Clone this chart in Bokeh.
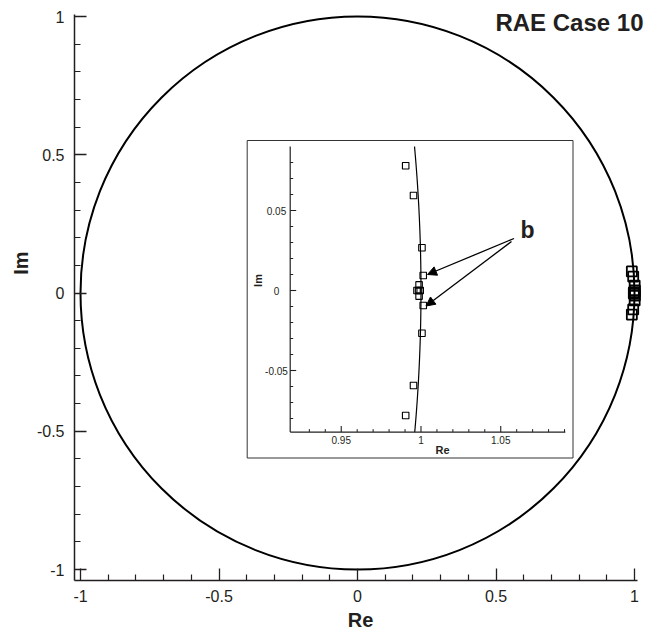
import numpy as np
from bokeh.plotting import figure
from bokeh.models import Range1d, FixedTicker, Label, Arrow, NormalHead, Title
from bokeh.core.properties import value
from bokeh.embed import file_html
from bokeh.resources import INLINE

# ---------------- data ----------------
eig_re = [0.9904, 0.9953, 1.0006, 1.0014, 0.9975, 0.9985, 0.9995, 0.9988, 0.9988,
          1.0014, 1.0006, 0.9953, 0.9904]
eig_im = [0.0780, 0.0594, 0.0267, 0.0094, 0.0, 0.0, 0.0, 0.0035, -0.0035,
          -0.0094, -0.0267, -0.0594, -0.0781]
unit_radius = 1.0

main_ticks = [-1, -0.5, 0, 0.5, 1]
main_tick_labels = ["-1", "-0.5", "0", "0.5", "1"]
inset_x_ticks = [0.95, 1.0, 1.05]
inset_x_labels = ["0.95", "1", "1.05"]
inset_y_ticks = [-0.05, 0.0, 0.05]
inset_y_labels = ["-0.05", "0", "0.05"]
title_text = "RAE Case 10"
annot_text = "b"
x_title = "Re"
y_title = "Im"

FONT = "Liberation Sans"
INK = "#231f20"

# ---------------- layout (pixels) ----------------
W, H = 650, 644
FL, FR, FT, FB = 74, 646, 4, 580          # frame edges
X0PX, KX = 80.0, 277.0                    # x=-1 at 80px, px per unit
Y1PX, KY = 16.0, 276.5                    # y=+1 at 16px, px per unit

x_start = -1 - (X0PX - FL) / KX
x_end = -1 + (FR - X0PX) / KX
y_end = 1 + (Y1PX - FT) / KY
y_start = 1 - (FB - Y1PX) / KY

def mx(px):
    return -1 + (px - X0PX) / KX

def my(py):
    return 1 - (py - Y1PX) / KY

# inset mapping
IX0, IX0PX, IKX = 0.918, 289.7, 1595.0
IY0PX, IKY = 290.0, 1600.0
ix_lo, ix_hi = 0.918, 1.0905
iy_lo, iy_hi = -0.0885, 0.090

def ix(px):
    return IX0 + (px - IX0PX) / IKX

def iy(py):
    return (IY0PX - py) / IKY

p = figure(width=W, height=H,
           x_range=Range1d(x_start, x_end), y_range=Range1d(y_start, y_end),
           output_backend="svg", toolbar_location=None,
           min_border_left=FL, min_border_right=W - FR,
           min_border_top=FT, min_border_bottom=H - FB,
           outline_line_color=None, background_fill_color="white",
           border_fill_color="white")
p.extra_x_ranges = {"ix": Range1d(ix(FL), ix(FR))}
p.extra_y_ranges = {"iy": Range1d(iy(FB), iy(FT))}
p.grid.visible = False

main_minor = [float(v) for v in np.round(np.arange(-1.0, 1.0001, 0.1), 2)
              if not any(abs(v - t) < 1e-9 for t in main_ticks)]
overrides = {t: l for t, l in zip(main_ticks, main_tick_labels)}

for ax in (p.xaxis[0], p.yaxis[0]):
    ax.ticker = FixedTicker(ticks=main_ticks, minor_ticks=main_minor)
    ax.major_label_overrides = overrides
    ax.axis_line_color = INK
    ax.axis_line_width = 1.5
    ax.major_tick_in = 12
    ax.major_tick_out = 0
    ax.minor_tick_in = 6
    ax.minor_tick_out = 0
    ax.major_tick_line_color = INK
    ax.major_tick_line_width = 1.3
    ax.minor_tick_line_color = INK
    ax.minor_tick_line_width = 1.2
    ax.major_label_text_font = FONT
    ax.major_label_text_font_size = "16px"
    ax.major_label_text_color = INK
p.xaxis[0].major_label_standoff = 9
p.yaxis[0].major_label_standoff = 10
p.xaxis[0].bounds = (x_start, 1.012)
p.yaxis[0].bounds = (y_start, 1.008)

p.xaxis[0].axis_label = x_title
p.xaxis[0].axis_label_standoff = 4
p.xaxis[0].axis_label_text_font = FONT
p.xaxis[0].axis_label_text_font_size = "20px"
p.xaxis[0].axis_label_text_font_style = "bold"
p.xaxis[0].axis_label_text_color = INK

# "Im" title on the left, placed part-way up as in the reference
p.add_layout(Title(text=y_title, align="right", offset=247, standoff=4,
                   text_font=FONT, text_font_size="20px", text_font_style="bold",
                   text_color=INK), "left")

# main unit circle and eigenvalues
p.ellipse(x=0, y=0, width=2 * unit_radius, height=2 * unit_radius,
          fill_alpha=0, line_color="black", line_width=2)
p.scatter(eig_re, eig_im, marker="square", size=10, fill_alpha=0,
          line_color="black", line_width=1.8)

# ---------------- inset ----------------
R = dict(x_range_name="ix", y_range_name="iy")
p.quad(left=ix(246.7), right=ix(572.5), top=iy(140.0), bottom=iy(457.5),
       fill_color="white", line_color="#333333", line_width=1, **R)

yy = np.linspace(iy_lo, iy_hi, 80)
p.line(np.sqrt(unit_radius ** 2 - yy ** 2), yy, line_color="black", line_width=1.2, **R)
p.scatter(eig_re, eig_im, marker="square", size=6.5, fill_alpha=0,
          line_color="black", line_width=1.1, **R)

# inset axes lines
p.line([ix_lo, ix_hi], [iy_lo, iy_lo], line_color=INK, line_width=1.2, **R)
p.line([ix_lo, ix_lo], [iy_lo, iy_hi], line_color=INK, line_width=1.2, **R)

in_x_minor = [float(v) for v in np.round(np.arange(0.93, ix_hi + 1e-6, 0.01), 3)
              if not any(abs(v - t) < 1e-9 for t in inset_x_ticks)]
in_y_minor = [float(v) for v in np.round(np.arange(-0.08, 0.0801, 0.01), 3)
              if not any(abs(v - t) < 1e-9 for t in inset_y_ticks)]

def xticks(vals, length):
    return dict(x0=vals, x1=vals, y0=[iy_lo] * len(vals),
                y1=[iy_lo + length / IKY] * len(vals))

def yticks(vals, length):
    return dict(y0=vals, y1=vals, x0=[ix_lo] * len(vals),
                x1=[ix_lo + length / IKX] * len(vals))

for d, w in ((xticks(inset_x_ticks, 6), 1.1), (xticks(in_x_minor, 3), 1.0),
             (yticks(inset_y_ticks, 6), 1.1), (yticks(in_y_minor, 3), 1.0)):
    p.segment(line_color=INK, line_width=w, **d, **R)

p.text(x=inset_x_ticks, y=[iy_lo - 4 / IKY] * 3, text=inset_x_labels,
       text_font=value(FONT), text_font_size="10px", text_color=INK,
       text_align="center", text_baseline="top", **R)
p.text(x=[ix(276.0)] * 3, y=inset_y_ticks, text=inset_y_labels,
       text_font=value(FONT), text_font_size="10px", text_color=INK,
       text_align="center", text_baseline="middle", **R)
p.text(x=[ix(442.0)], y=[iy(449.5)], text=[x_title],
       text_font=value(FONT), text_font_size="11px", text_font_style="bold",
       text_color=INK, text_align="center", text_baseline="middle", **R)
p.text(x=[ix(257.0)], y=[iy(280.0)], text=[y_title], angle=np.pi / 2,
       text_font=value(FONT), text_font_size="11px", text_font_style="bold",
       text_color=INK, text_align="center", text_baseline="middle", **R)
p.text(x=[ix(527.0)], y=[iy(229.5)], text=[annot_text],
       text_font=value(FONT), text_font_size="23px", text_font_style="bold",
       text_color=INK, text_align="center", text_baseline="middle", **R)

arrow_tail = [(ix(513.5), iy(238.0)), (ix(511.0), iy(241.0))]
arrow_tip = [(ix(427.0), iy(274.0)), (ix(425.5), iy(305.5))]
for (xs, ys), (xe, ye) in zip(arrow_tail, arrow_tip):
    p.add_layout(Arrow(end=NormalHead(size=9, fill_color="black", line_color="black",
                                      line_width=1),
                       x_start=xs, y_start=ys, x_end=xe, y_end=ye,
                       line_color="black", line_width=1.3, **R))

# ---------------- title ----------------
p.add_layout(Label(x=mx(643.0), y=my(22.0), text=title_text, text_align="right",
                   text_baseline="middle", text_font=FONT, text_font_size="24px",
                   text_font_style="bold", text_color=INK))

open("out.html", "w").write(file_html(p, INLINE))
